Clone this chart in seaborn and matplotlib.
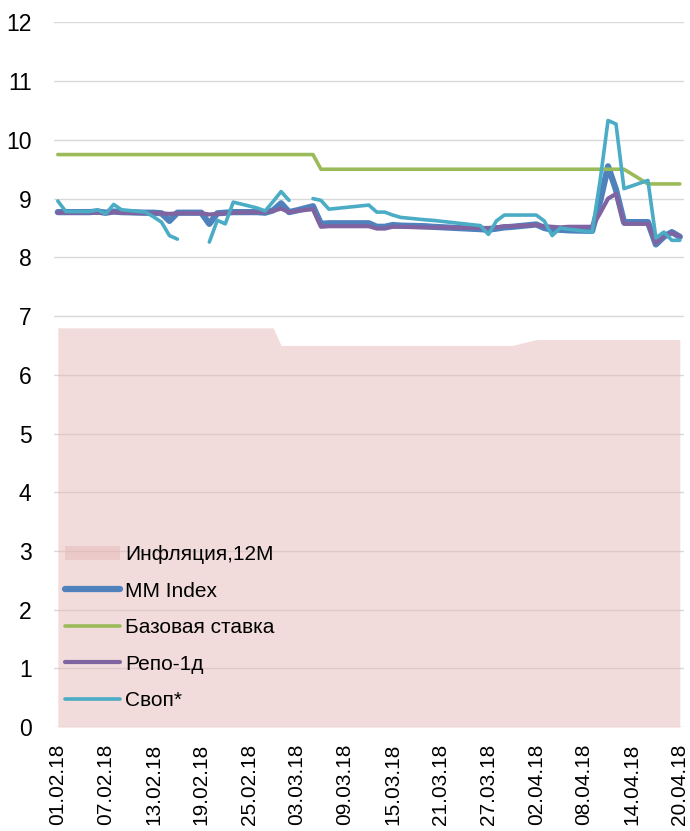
import pandas as pd
import numpy as np
import matplotlib
matplotlib.use('Agg')
import matplotlib.pyplot as plt
import matplotlib.dates as mdates
from matplotlib.patches import Patch
from matplotlib.lines import Line2D
import seaborn as sns

sns.set_style('white')
plt.rcParams['font.family'] = ['Liberation Sans', 'DejaVu Sans']
plt.rcParams['text.color'] = 'black'
plt.rcParams['xtick.color'] = 'black'
plt.rcParams['ytick.color'] = 'black'

# business days (KZ calendar, 03.03 was a working Saturday)
dates = ['2018-02-01', '2018-02-02', '2018-02-05', '2018-02-06', '2018-02-07', '2018-02-08',
         '2018-02-09', '2018-02-12', '2018-02-13', '2018-02-14', '2018-02-15', '2018-02-16',
         '2018-02-19', '2018-02-20', '2018-02-21', '2018-02-22', '2018-02-23', '2018-02-26',
         '2018-02-27', '2018-02-28', '2018-03-01', '2018-03-02', '2018-03-03', '2018-03-05',
         '2018-03-06', '2018-03-07', '2018-03-12', '2018-03-13', '2018-03-14', '2018-03-15',
         '2018-03-16', '2018-03-19', '2018-03-20', '2018-03-26', '2018-03-27', '2018-03-28',
         '2018-03-29', '2018-03-30', '2018-04-02', '2018-04-03', '2018-04-04', '2018-04-05',
         '2018-04-06', '2018-04-09', '2018-04-10', '2018-04-11', '2018-04-12', '2018-04-13',
         '2018-04-16', '2018-04-17', '2018-04-18', '2018-04-19', '2018-04-20']

mm_index = [8.77, 8.77, 8.77, 8.78, 8.76, 8.78, 8.77, 8.76, 8.76, 8.75, 8.62, 8.76,
            8.76, 8.57, 8.75, 8.76, 8.77, 8.77, 8.76, 8.80, 8.92, 8.77, 8.80, 8.87,
            8.57, 8.58, 8.58, 8.52, 8.52, 8.55, 8.54, 8.53, 8.52, 8.48, 8.47, 8.49,
            8.51, 8.52, 8.56, 8.50, 8.47, 8.47, 8.46, 8.45, 8.95, 9.55, 9.15, 8.60,
            8.60, 8.22, 8.35, 8.43, 8.35]

base_rate = [9.75] * 24 + [9.5] * 24 + [9.25] * 5

repo = [8.76, 8.76, 8.76, 8.76, 8.75, 8.77, 8.76, 8.75, 8.75, 8.75, 8.74, 8.75,
        8.75, 8.73, 8.74, 8.75, 8.76, 8.77, 8.77, 8.79, 8.83, 8.77, 8.79, 8.82,
        8.52, 8.53, 8.53, 8.49, 8.49, 8.52, 8.52, 8.51, 8.51, 8.50, 8.50, 8.51,
        8.53, 8.53, 8.55, 8.53, 8.52, 8.51, 8.52, 8.52, 8.75, 9.00, 9.08, 8.57,
        8.57, 8.24, 8.36, 8.42, 8.36]

swap = [8.96, 8.78, 8.78, 8.81, 8.74, 8.90, 8.81, 8.77, 8.69, 8.60, 8.37, 8.31,
        np.nan, 8.26, 8.63, 8.57, 8.94, 8.84, 8.79, 8.95, 9.12, 8.97, np.nan, 9.00,
        8.97, 8.82, 8.89, 8.77, 8.77, 8.72, 8.68, 8.64, 8.63, 8.54, 8.39, 8.62,
        8.72, 8.72, 8.72, 8.62, 8.37, 8.50, 8.48, 8.43, 9.30, 10.33, 10.27, 9.17,
        9.31, 8.33, 8.43, 8.29, 8.29]

inflation = [6.8] * 20 + [6.5] * 18 + [6.6] * 15

df = pd.DataFrame({'date': pd.to_datetime(dates), 'mm': mm_index, 'base': base_rate,
                   'repo': repo, 'swap': swap, 'infl': inflation})

c_infl = '#e6b9b8'
c_mm = '#4f81bd'
c_base = '#9bbb59'
c_repo = '#8064a2'
c_swap = '#4bacc6'

fig = plt.figure(figsize=(6.9, 8.31), dpi=100)
ax = fig.add_axes([0.078, 0.125, 0.913, 0.848])

ax.fill_between(df['date'], 0, df['infl'], color=c_infl, alpha=0.5, lw=0, zorder=1)

sns.lineplot(data=df, x='date', y='mm', color=c_mm, lw=4.5, ax=ax, zorder=3)
sns.lineplot(data=df, x='date', y='base', color=c_base, lw=2.6, ax=ax, zorder=3)
sns.lineplot(data=df, x='date', y='repo', color=c_repo, lw=3.0, ax=ax, zorder=4)
# swap has gaps -> draw segments separately
df['seg'] = df['swap'].isna().cumsum()
sns.lineplot(data=df.dropna(subset=['swap']), x='date', y='swap', units='seg',
             estimator=None, color=c_swap, lw=2.6, ax=ax, zorder=5)

ax.set_ylim(0, 12)
ax.set_yticks(range(0, 13))
ax.set_xlim(pd.Timestamp('2018-02-01') - pd.Timedelta(hours=12),
            pd.Timestamp('2018-04-20') + pd.Timedelta(hours=12))
ax.set_xticks(pd.date_range('2018-02-01', '2018-04-20', freq='6D'))
ax.xaxis.set_major_formatter(mdates.DateFormatter('%d.%m.%y'))
ax.tick_params(axis='x', rotation=90, labelsize=15, length=0, pad=12)
ax.tick_params(axis='y', labelsize=16.5, length=0, pad=16)
ax.set_xlabel('')
ax.set_ylabel('')
ax.grid(axis='y', color='#d9d9d9', lw=1)
ax.set_axisbelow(True)
for s in ax.spines.values():
    s.set_visible(False)

handles = [Patch(facecolor=c_infl, alpha=0.5, edgecolor='none'),
           Line2D([], [], color=c_mm, lw=4.5),
           Line2D([], [], color=c_base, lw=2.6),
           Line2D([], [], color=c_repo, lw=3.0),
           Line2D([], [], color=c_swap, lw=2.6)]
labels = ['Инфляция,12M', 'MM Index', 'Базовая ставка', 'Репо-1д', 'Своп*']
ax.legend(handles, labels, loc='lower left', bbox_to_anchor=(0.017, 0.024), frameon=False,
          fontsize=15, handlelength=2.65, handletextpad=0.25, labelspacing=0.84,
          borderpad=0, borderaxespad=0)

fig.savefig('out.png', dpi=100)
